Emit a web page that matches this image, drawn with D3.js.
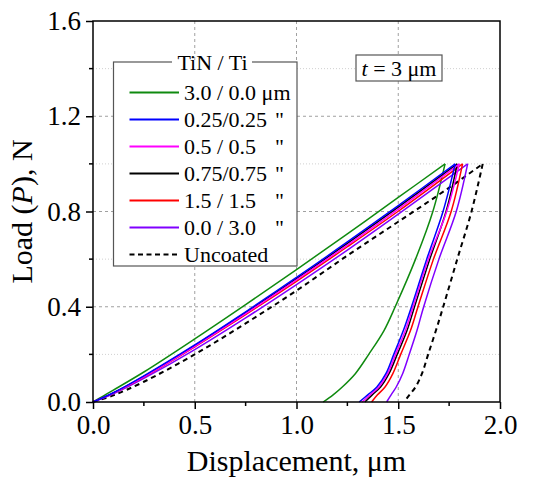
<!DOCTYPE html>
<html><head><meta charset="utf-8">
<script src="https://cdn.jsdelivr.net/npm/d3@7"></script>
<style>
html,body{margin:0;padding:0;background:#fff;}
svg{display:block;font-family:"Liberation Serif","Times New Roman",serif;}
</style></head>
<body>
<svg id="chart" width="535" height="478"></svg>
<script>
// ---- data (displacement µm, load N) ----
const seriesNames = ["3.0 / 0.0 \u03bcm", "0.25/0.25", "0.5 / 0.5", "0.75/0.75", "1.5 / 1.5", "0.0 / 3.0", "Uncoated"];
const seriesDitto = ["", "\"", "\"", "\"", "\"", "\"", ""];
const seriesColors = ["#0f8a0f", "#0000ff", "#ff00ff", "#000000", "#ff0000", "#8000ff", "#000000"];

const greenLoad   = [[0,0],[0.05,0.025],[0.1,0.05],[0.25,0.126],[0.5,0.265],[0.75,0.409],[1.0,0.556],[1.25,0.706],[1.5,0.859],[1.73,1.0]];
const greenUnload = [[1.73,1.0],[1.67,0.8],[1.585,0.6],[1.485,0.4],[1.43,0.3],[1.355,0.2],[1.29,0.12],[1.225,0.063],[1.18,0.03],[1.131,0]];

const blueLoad    = [[0,0],[0.1,0.039],[0.25,0.110],[0.5,0.240],[0.75,0.379],[1.0,0.523],[1.25,0.672],[1.5,0.825],[1.78,1.0]];
const blueUnload  = [[1.78,1.0],[1.72,0.8],[1.64,0.6],[1.565,0.4],[1.525,0.3],[1.478,0.2],[1.44,0.12],[1.395,0.063],[1.35,0.03],[1.308,0]];

const magentaLoad   = [[0,0],[0.1,0.037],[0.25,0.106],[0.5,0.234],[0.75,0.371],[1.0,0.513],[1.25,0.659],[1.5,0.81],[1.80,1.0]];
const magentaUnload = [[1.80,1.0],[1.738,0.8],[1.648,0.6],[1.573,0.4],[1.535,0.3],[1.487,0.2],[1.448,0.12],[1.405,0.063],[1.362,0.03],[1.322,0]];

const blackLoad   = [[0,0],[0.1,0.038],[0.25,0.108],[0.5,0.237],[0.75,0.375],[1.0,0.518],[1.25,0.666],[1.5,0.818],[1.79,1.0]];
const blackUnload = [[1.79,1.0],[1.735,0.8],[1.655,0.6],[1.58,0.4],[1.543,0.3],[1.495,0.2],[1.455,0.12],[1.413,0.063],[1.372,0.03],[1.336,0]];

const redLoad     = [[0,0],[0.1,0.037],[0.25,0.105],[0.5,0.232],[0.75,0.367],[1.0,0.507],[1.25,0.652],[1.5,0.801],[1.816,1.0]];
const redUnload   = [[1.816,1.0],[1.76,0.8],[1.673,0.6],[1.597,0.4],[1.56,0.3],[1.512,0.2],[1.474,0.12],[1.435,0.063],[1.398,0.03],[1.369,0]];

const purpleLoad  = [[0,0],[0.1,0.034],[0.25,0.099],[0.5,0.220],[0.75,0.353],[1.0,0.493],[1.25,0.638],[1.5,0.789],[1.841,1.0]];
const purpleUnload= [[1.841,1.0],[1.785,0.8],[1.70,0.6],[1.625,0.4],[1.592,0.3],[1.554,0.2],[1.522,0.12],[1.49,0.063],[1.465,0.03],[1.443,0]];

const uncoatedLoad   = [[0,0],[0.1,0.028],[0.25,0.085],[0.5,0.20],[0.75,0.33],[1.0,0.468],[1.25,0.615],[1.5,0.757],[1.75,0.9],[1.915,1.0]];
const uncoatedUnload = [[1.915,1.0],[1.86,0.8],[1.79,0.6],[1.721,0.4],[1.685,0.3],[1.647,0.2],[1.617,0.12],[1.585,0.063],[1.555,0.03],[1.529,0]];

const xTicks = [0, 0.5, 1.0, 1.5, 2.0];
const xMinor = [0.25, 0.75, 1.25, 1.75];
const yTicks = [0, 0.4, 0.8, 1.2, 1.6];
const yMinor = [0.2, 0.6, 1.0, 1.4];

const seriesLoad = [greenLoad, blueLoad, magentaLoad, blackLoad, redLoad, purpleLoad, uncoatedLoad];
const seriesUnload = [greenUnload, blueUnload, magentaUnload, blackUnload, redUnload, purpleUnload, uncoatedUnload];

// ---- layout ----
const L = 93, R = 500, T = 21, B = 402;
const svg = d3.select("#chart");
const x = d3.scaleLinear().domain([0, 2]).range([L, R]);
const y = d3.scaleLinear().domain([0, 1.6]).range([B, T]);

// grid
const grid = svg.append("g");
grid.selectAll(".gx").data(xTicks.filter(v => v > 0 && v < 2)).enter().append("line")
  .attr("x1", d => x(d)).attr("x2", d => x(d)).attr("y1", T).attr("y2", B)
  .attr("stroke", "#a0a0a0").attr("stroke-width", 1).attr("stroke-dasharray", "3,3");
grid.selectAll(".gy").data(yTicks.filter(v => v > 0 && v < 1.6)).enter().append("line")
  .attr("x1", L).attr("x2", R).attr("y1", d => y(d)).attr("y2", d => y(d))
  .attr("stroke", "#a0a0a0").attr("stroke-width", 1).attr("stroke-dasharray", "3,3");
grid.selectAll(".gym").data(yMinor).enter().append("line")
  .attr("x1", L).attr("x2", R).attr("y1", d => y(d)).attr("y2", d => y(d))
  .attr("stroke", "#d0d0d0").attr("stroke-width", 1).attr("stroke-dasharray", "1,2");

// curves
const line = d3.line().x(d => x(d[0])).y(d => y(d[1])).curve(d3.curveCatmullRom.alpha(0.5));
const order = [6, 0, 5, 4, 3, 2, 1];
order.forEach(i => {
  [seriesLoad[i], seriesUnload[i]].forEach(arr => {
    svg.append("path").attr("d", line(arr)).attr("fill", "none")
      .attr("stroke", seriesColors[i])
      .attr("stroke-width", i === 6 ? 2 : 1.5)
      .attr("stroke-dasharray", i === 6 ? "5,4" : null);
  });
});

// axes
const xAxis = d3.axisBottom(x).tickValues(xTicks).tickFormat(d3.format(".1f")).tickSize(7).tickPadding(6);
const yAxis = d3.axisLeft(y).tickValues(yTicks).tickFormat(d3.format(".1f")).tickSize(7).tickPadding(5);
const gx = svg.append("g").attr("transform", `translate(0,${B})`).call(xAxis);
const gy = svg.append("g").attr("transform", `translate(${L},0)`).call(yAxis);
[gx, gy].forEach(g => {
  g.attr("font-family", null);
  g.select(".domain").remove();
  g.selectAll("line").attr("stroke", "#000").attr("stroke-width", 1.5);
  g.selectAll("text").attr("font-size", 27).attr("fill", "#000").attr("font-family", "Liberation Serif, serif");
});
gx.selectAll(".minor").data(xMinor).enter().append("line")
  .attr("x1", d => x(d)).attr("x2", d => x(d)).attr("y1", 0).attr("y2", 4)
  .attr("stroke", "#000").attr("stroke-width", 1.5);
gy.selectAll(".minor").data(yMinor).enter().append("line")
  .attr("y1", d => y(d)).attr("y2", d => y(d)).attr("x1", 0).attr("x2", -4)
  .attr("stroke", "#000").attr("stroke-width", 1.5);

// frame
svg.append("rect").attr("x", L).attr("y", T).attr("width", R - L).attr("height", B - T)
  .attr("fill", "none").attr("stroke", "#000").attr("stroke-width", 1.5);

// axis titles
svg.append("text").attr("x", (L + R) / 2).attr("y", 471).attr("text-anchor", "middle")
  .attr("font-size", 30).text("Displacement, \u03bcm");
const yt = svg.append("text").attr("transform", `translate(32,${(T + B) / 2}) rotate(-90)`)
  .attr("text-anchor", "middle").attr("font-size", 30);
yt.append("tspan").text("Load (");
yt.append("tspan").attr("font-style", "italic").text("P");
yt.append("tspan").text("), N");

// legend
const lg = svg.append("g");
const lx0 = 113.5, ly0 = 62, lx1 = 297, ly1 = 266;
lg.append("rect").attr("x", lx0).attr("y", ly0).attr("width", lx1 - lx0).attr("height", ly1 - ly0)
  .attr("fill", "#fff").attr("stroke", "#555").attr("stroke-width", 1.2);
lg.append("rect").attr("x", 172).attr("y", ly0 - 2).attr("width", 80).attr("height", 4).attr("fill", "#fff");
lg.append("text").attr("x", 212.5).attr("y", 70).attr("text-anchor", "middle").attr("font-size", 22).text("TiN / Ti");
seriesNames.forEach((name, i) => {
  const yy = 92.5 + i * 27;
  lg.append("line").attr("x1", 129.5).attr("x2", 179).attr("y1", yy).attr("y2", yy)
    .attr("stroke", seriesColors[i]).attr("stroke-width", i === 6 ? 2 : 1.8)
    .attr("stroke-dasharray", i === 6 ? "5,3.5" : null);
  lg.append("text").attr("x", 184).attr("y", yy + 7.5).attr("font-size", 22).text(name);
  if (seriesDitto[i]) lg.append("text").attr("x", 275).attr("y", yy + 7.5).attr("font-size", 22).text(seriesDitto[i]);
});

// thickness note
svg.append("rect").attr("x", 356).attr("y", 55).attr("width", 86).attr("height", 26)
  .attr("fill", "#fff").attr("stroke", "#555").attr("stroke-width", 1.2);
const tt = svg.append("text").attr("x", 399).attr("y", 76).attr("text-anchor", "middle").attr("font-size", 22);
tt.append("tspan").attr("font-style", "italic").text("t");
tt.append("tspan").text(" = 3 \u03bcm");
</script>
</body></html>
